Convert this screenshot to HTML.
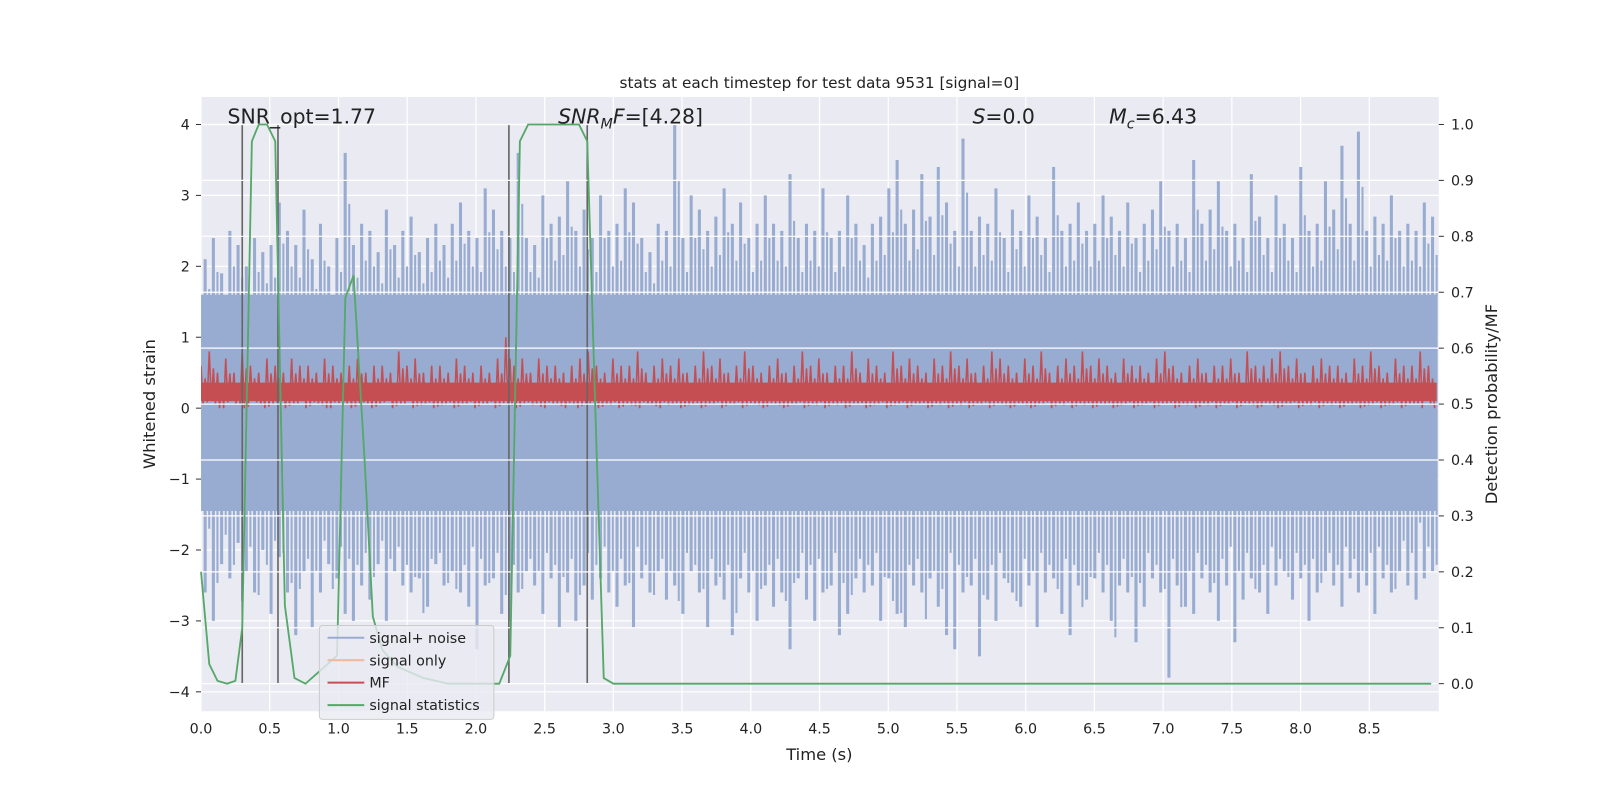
<!DOCTYPE html>
<html><head><meta charset="utf-8"><style>
html,body{margin:0;background:#fff;overflow:hidden;width:1600px;height:800px;}
svg{display:block;font-family:"DejaVu Sans","Liberation Sans",sans-serif;}
</style></head><body>
<svg id="c" width="1600" height="800" viewBox="0 0 1600 800">
<defs><clipPath id="pc"><rect x="197" y="95" width="1213" height="602"/></clipPath></defs>
<g transform="scale(1.0204)">
<rect x="197" y="95" width="1213" height="602" fill="#EAEAF2"/>
<g id="gridL"></g><g clip-path="url(#pc)"><g id="blue"></g><g id="red"></g></g><g id="vlines"></g><g id="gridR"></g><g id="green"></g><g id="ticks"></g>
<text x="803" y="86" font-size="15" text-anchor="middle" fill="#222">stats at each timestep for test data 9531 [signal=0]</text>
<text x="223" y="121" font-size="20" fill="#222">SNR_opt=1.77</text>
<text x="547" y="121" font-size="20" fill="#222"><tspan font-style="italic">SNR</tspan><tspan font-style="italic" font-size="14" dy="5">M</tspan><tspan font-style="italic" dy="-5">F</tspan>=[4.28]</text>
<text x="953" y="121" font-size="20" fill="#222"><tspan font-style="italic">S</tspan>=0.0</text>
<text x="1087" y="121" font-size="20" fill="#222"><tspan font-style="italic">M</tspan><tspan font-style="italic" font-size="14" dy="5">c</tspan><tspan dy="-5">=6.43</tspan></text>
<text x="803" y="745" font-size="16" text-anchor="middle" fill="#222">Time (s)</text>
<text transform="translate(152,396) rotate(-90)" font-size="16" text-anchor="middle" fill="#222">Whitened strain</text>
<text transform="translate(1467,396) rotate(-90)" font-size="16" text-anchor="middle" fill="#222">Detection probability/MF</text>
<g>
<rect x="313" y="613" width="171" height="92" rx="3" fill="#EAEAF2" fill-opacity="0.8" stroke="#ccc"/>
<g><line x1="321" y1="625" x2="357" y2="625" stroke="#98acd1" stroke-width="2"/><text x="362" y="630" font-size="14" fill="#222">signal+ noise</text></g>
<g><line x1="321" y1="647" x2="357" y2="647" stroke="#eebaa0" stroke-width="2"/><text x="362" y="652" font-size="14" fill="#222">signal only</text></g>
<g><line x1="321" y1="669" x2="357" y2="669" stroke="#c44e52" stroke-width="2"/><text x="362" y="674" font-size="14" fill="#222">MF</text></g>
<g><line x1="321" y1="691" x2="357" y2="691" stroke="#55a868" stroke-width="2"/><text x="362" y="696" font-size="14" fill="#222">signal statistics</text></g>
</g>
</g>
</svg>
<script>
const xTicks=[0,0.5,1,1.5,2,2.5,3,3.5,4,4.5,5,5.5,6,6.5,7,7.5,8,8.5];
const yTicksL=[-4,-3,-2,-1,0,1,2,3,4];
const yTicksR=[0,0.1,0.2,0.3,0.4,0.5,0.6,0.7,0.8,0.9,1.0];
const noiseTop=[2.1,2.4,1.9,2.5,2.3,2.0,2.4,2.2,2.3,2.9,2.5,2.3,2.8,2.1,2.6,2.0,2.4,3.6,2.3,2.6,2.5,2.2,2.8,2.3,2.5,2.7,2.2,2.4,2.6,2.3,2.6,2.9,2.5,2.4,3.1,2.8,2.5,2.4,3.6,2.4,2.3,3.0,2.6,2.7,3.2,2.5,2.8,2.4,3.0,2.5,2.6,3.1,2.9,2.4,2.2,2.6,2.5,4.0,2.4,3.0,2.8,2.5,2.7,3.1,2.6,2.9,2.4,2.6,3.0,2.6,2.5,3.3,2.4,2.6,2.5,3.1,2.4,2.5,3.0,2.6,2.3,2.6,2.7,3.1,3.5,2.6,2.8,3.3,2.7,3.4,2.9,2.5,3.8,2.5,2.7,2.6,3.1,2.4,2.8,2.5,3.0,2.7,2.4,3.4,2.5,2.6,2.9,2.5,2.6,3.0,2.7,2.5,2.9,2.4,2.6,2.8,3.2,2.5,2.6,2.4,3.5,2.6,2.8,3.2,2.5,2.6,2.4,3.3,2.7,2.4,3.0,2.6,2.4,3.4,2.5,2.6,3.2,2.8,3.7,2.6,3.9,2.5,2.7,2.6,3.0,2.5,2.6,2.5,2.9,2.7,2.8,2.6];
const noiseBot=[-2.6,-3.0,-2.2,-2.4,-1.9,-2.3,-2.6,-2.0,-2.9,-2.1,-2.6,-3.2,-2.3,-3.1,-2.6,-2.2,-2.4,-2.9,-3.0,-2.5,-2.7,-2.2,-3.0,-2.3,-2.5,-2.6,-2.4,-2.8,-2.2,-2.5,-2.3,-2.6,-2.8,-3.4,-2.5,-2.4,-2.9,-3.0,-2.6,-2.3,-2.5,-2.9,-2.4,-3.1,-2.6,-3.0,-2.5,-2.7,-2.4,-2.6,-2.8,-2.5,-3.1,-2.4,-2.6,-2.3,-2.7,-2.5,-2.9,-2.3,-2.6,-3.1,-2.5,-2.7,-3.2,-2.4,-2.6,-3.0,-2.5,-2.8,-2.6,-3.4,-2.4,-2.7,-3.0,-2.6,-2.5,-3.2,-2.9,-2.4,-2.6,-2.5,-3.0,-2.4,-2.9,-3.1,-2.5,-2.6,-2.4,-2.8,-3.2,-3.4,-2.6,-2.5,-3.5,-2.7,-3.0,-2.4,-2.6,-2.8,-2.5,-3.1,-2.6,-2.4,-2.9,-3.2,-2.5,-2.7,-2.4,-2.6,-3.0,-2.5,-2.6,-3.3,-2.8,-2.4,-2.6,-3.8,-2.5,-2.8,-2.9,-2.4,-2.6,-3.0,-2.5,-3.3,-2.7,-2.4,-2.6,-2.9,-2.5,-2.3,-2.7,-2.4,-3.0,-2.6,-2.3,-2.5,-2.8,-2.4,-2.6,-2.5,-2.9,-2.4,-2.6,-2.3,-2.5,-2.7,-2.4,-2.3];
const mfMax=[0.6,0.8,0.5,0.7,0.5,0.8,0.6,0.5,0.7,0.6,0.5,0.7,0.6,0.6,0.5,0.7,0.6,0.5,0.6,0.7,0.5,0.6,0.6,0.5,0.8,0.6,0.7,0.5,0.6,0.6,0.5,0.7,0.6,0.5,0.6,0.5,0.7,1.0,0.6,0.7,0.5,0.7,0.6,0.6,0.5,0.6,0.7,0.8,0.6,0.5,0.7,0.6,0.6,0.8,0.5,0.6,0.7,0.6,0.7,0.5,0.6,0.8,0.6,0.7,0.5,0.6,0.8,0.6,0.5,0.6,0.7,0.5,0.6,0.8,0.6,0.7,0.5,0.6,0.6,0.8,0.5,0.7,0.6,0.5,0.8,0.6,0.7,0.6,0.5,0.7,0.6,0.8,0.6,0.7,0.5,0.6,0.8,0.7,0.6,0.5,0.7,0.6,0.8,0.5,0.6,0.7,0.6,0.8,0.6,0.7,0.6,0.5,0.7,0.6,0.6,0.5,0.7,0.8,0.6,0.5,0.6,0.7,0.5,0.6,0.6,0.7,0.5,0.8,0.6,0.6,0.7,0.8,0.6,0.7,0.5,0.6,0.7,0.6,0.6,0.5,0.7,0.6,0.8,0.6,0.5,0.7,0.6,0.6,0.8,0.6];
const mfMin=[0.05,0.1,0.0,0.08,0.05,0.0,0.1,0.05,0.02,0.08,0.0,0.05,0.1,0.03,0.06,0.0,0.08,0.04,0.0,0.07,0.05,0.02,0.08,0.0,0.05,0.1,0.03,0.06,0.0,0.04,0.08,0.02,0.05,0.0,0.06,0.09,0.03,0.05,0.0,0.07,0.04,0.02,0.08,0.05,0.0,0.06,0.03,0.07,0.0,0.05,0.08,0.02,0.04,0.0,0.06,0.03,0.08,0.05,0.0,0.04,0.07,0.02,0.05,0.0,0.06,0.08,0.03,0.05,0.0,0.07,0.04,0.02,0.06,0.0,0.05,0.08,0.03,0.04,0.0,0.06,0.07,0.02,0.05,0.0,0.04,0.08,0.03,0.06,0.0,0.05,0.07,0.02,0.04,0.0,0.06,0.08,0.03,0.05,0.0,0.07,0.04,0.02,0.06,0.0,0.05,0.08,0.03,0.04,0.0,0.06,0.07,0.02,0.05,0.0,0.04,0.08,0.03,0.06,0.0,0.05,0.07,0.02,0.04,0.0,0.06,0.08,0.03,0.05,0.0,0.07,0.04,0.02,0.06,0.0,0.05,0.08,0.03,0.04,0.0,0.06,0.07,0.02,0.05,0.0,0.04,0.08,0.03,0.06,0.0,0.05];
const statT=[0,0.06,0.12,0.19,0.25,0.30,0.37,0.42,0.48,0.54,0.61,0.68,0.76,0.99,1.05,1.11,1.19,1.25,1.32,1.43,1.62,1.80,2.17,2.25,2.32,2.38,2.75,2.81,2.88,2.93,3.0,8.95];
const statV=[0.2,0.035,0.005,0.0,0.005,0.1,0.97,1.0,1.0,0.97,0.14,0.01,0.0,0.05,0.69,0.73,0.4,0.12,0.06,0.03,0.01,0.0,0.0,0.05,0.97,1.0,1.0,0.97,0.4,0.01,0.0,0.0];
const markerT=[0.30,0.56,2.24,2.81];
const NS="http://www.w3.org/2000/svg";
const X=t=>197+t*134.7, YL=v=>400-v*69.5, YR=v=>670-v*548;
function mk(p,tag,a){const e=document.createElementNS(NS,tag);for(const k in a)e.setAttribute(k,a[k]);document.getElementById(p).appendChild(e);return e;}
xTicks.forEach(t=>{const g=mk('gridL','line',{x1:X(t),x2:X(t),y1:95,y2:697,stroke:'#fff','stroke-width':1.2});


const l=mk('ticks','text',{x:X(t),y:719,'font-size':14,'text-anchor':'middle',fill:'#222'});l.textContent=t.toFixed(1);

});
yTicksL.forEach(v=>{const g=mk('gridL','line',{x1:197,x2:1410,y1:YL(v),y2:YL(v),stroke:'#fff','stroke-width':1.2});


const l=mk('ticks','text',{x:186,y:YL(v)+5,'font-size':14,'text-anchor':'end',fill:'#222'});l.textContent=v<0?'\u2212'+(-v):v;


const tk=mk('ticks','line',{x1:192,x2:197,y1:YL(v),y2:YL(v),stroke:'#333'});

});
yTicksR.forEach(v=>{const g=mk('gridR','line',{x1:197,x2:1410,y1:YR(v),y2:YR(v),stroke:'#fff','stroke-width':1.2});


const l=mk('ticks','text',{x:1422,y:YR(v)+5,'font-size':14,fill:'#222'});l.textContent=v.toFixed(1);


const tk=mk('ticks','line',{x1:1410,x2:1415,y1:YR(v),y2:YR(v),stroke:'#333'});

});
const tEnd=8.99, n=Math.min(noiseTop.length,noiseBot.length), dt=tEnd/n;
const core=mk('blue','rect',{x:X(0),y:YL(1.6),width:X(tEnd)-X(0),height:YL(-1.45)-YL(1.6),fill:'#98acd1'});


for(let i=0;i<n;i++){const v=noiseTop[i];const x=X(i*dt+dt/2);
const b=mk('blue','line',{x1:x,x2:x,y1:YL(v),y2:YL(noiseBot[i]),stroke:'#98acd1','stroke-width':3});


const b2=mk('blue','line',{x1:x+4,x2:x+4,y1:YL(v*0.8),y2:YL(noiseBot[(i+7)%n]*0.85),stroke:'#98acd1','stroke-width':2});

}
const m=Math.min(mfMax.length,mfMin.length), dm=tEnd/m;
const band=mk('red','rect',{x:X(0),y:YL(0.36),width:X(tEnd)-X(0),height:YL(0.1)-YL(0.36),fill:'#c44e52'});


let pts=[];for(let i=0;i<m;i++){const t=i*dm;pts.push(X(t)+','+YL(mfMax[i]),X(t+dm*0.25)+','+YL(mfMin[i]),X(t+dm*0.5)+','+YL(mfMax[i]*0.7),X(t+dm*0.75)+','+YL(mfMin[(i+3)%m]));}
const mf=mk('red','polyline',{points:pts.join(' '),fill:'none',stroke:'#c44e52','stroke-width':1.5});


markerT.forEach(t=>{const l=mk('vlines','line',{x1:X(t),x2:X(t),y1:YR(1.0),y2:YR(0),stroke:'#666','stroke-width':1.6});

});
const gp=statT.map((t,i)=>X(t)+','+YR(statV[i])).join(' ');
const gl=mk('green','polyline',{points:gp,fill:'none',stroke:'#55a868','stroke-width':1.8});


</script>
</body></html>
